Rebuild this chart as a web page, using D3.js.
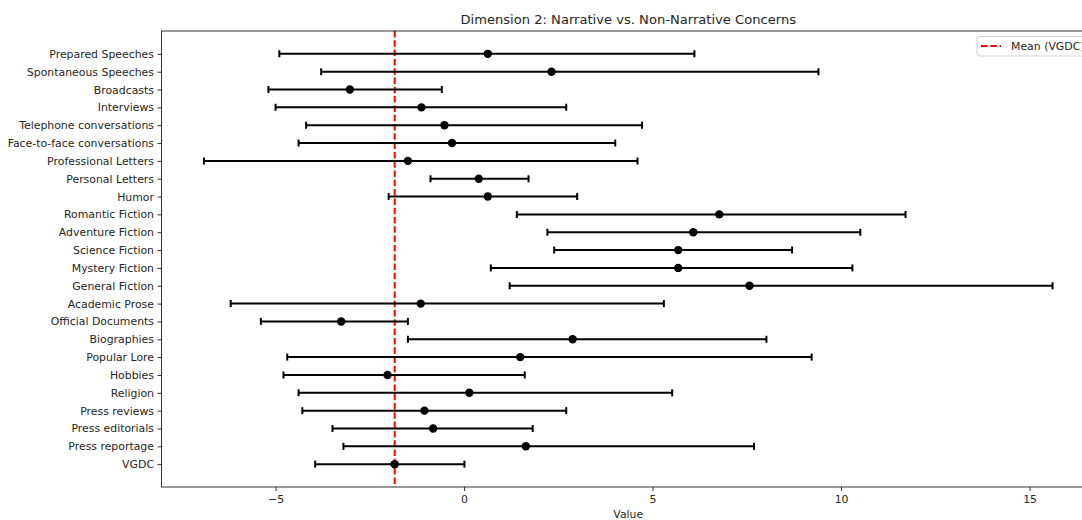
<!DOCTYPE html>
<html>
<head>
<meta charset="utf-8">
<script src="https://cdn.jsdelivr.net/npm/d3@7"></script>
<style>
  html, body { margin: 0; padding: 0; background: #fff; }
  svg { display: block; font-family: "DejaVu Sans", sans-serif; }
</style>
</head>
<body>
<svg id="chart" width="1082" height="520"></svg>
<script>
// ---- Data (top to bottom) ----
const categories = [
  "Prepared Speeches", "Spontaneous Speeches", "Broadcasts", "Interviews",
  "Telephone conversations", "Face-to-face conversations", "Professional Letters",
  "Personal Letters", "Humor", "Romantic Fiction", "Adventure Fiction",
  "Science Fiction", "Mystery Fiction", "General Fiction", "Academic Prose",
  "Official Documents", "Biographies", "Popular Lore", "Hobbies", "Religion",
  "Press reviews", "Press editorials", "Press reportage", "VGDC"
];
const means = [0.63, 2.32, -3.03, -1.13, -0.52, -0.32, -1.49, 0.39, 0.63, 6.77, 6.08,
  5.68, 5.68, 7.57, -1.15, -3.26, 2.88, 1.49, -2.03, 0.14, -1.05, -0.82, 1.64, -1.84];
const lows = [-4.90, -3.79, -5.19, -5.00, -4.19, -4.39, -6.90, -0.89, -2.00, 1.40, 2.21,
  2.39, 0.71, 1.21, -6.19, -5.39, -1.49, -4.69, -4.79, -4.39, -4.29, -3.49, -3.20, -3.95];
const highs = [6.11, 9.40, -0.59, 2.71, 4.72, 4.01, 4.60, 1.71, 3.00, 11.71, 10.51,
  8.70, 10.30, 15.61, 5.30, -1.49, 8.02, 9.22, 1.61, 5.52, 2.71, 1.82, 7.69, 0.01];
const vgdcMean = -1.84;
const xTicks = [-5, 0, 5, 10, 15];
const titleText = "Dimension 2: Narrative vs. Non-Narrative Concerns";
const xLabel = "Value";
const legendLabel = "Mean (VGDC)";

(function () {
// ---- Layout ----
const svg = d3.select("#chart");
const L = 161.5, R = 1095, T = 31, B = 487;
const xMin = d3.min(lows), xMax = d3.max(highs);
const pad = (xMax - xMin) * 0.05;
const x = d3.scaleLinear().domain([xMin - pad, xMax + pad]).range([L, R]);
const y = d3.scalePoint().domain(categories).range([T, B]).padding(1.28);

const textColor = "#262626";
const fs = 10.9;

// Title
svg.append("text").attr("x", (L + R) / 2).attr("y", 23.5)
  .attr("text-anchor", "middle").attr("font-size", 13.1).attr("fill", textColor)
  .text(titleText);

// Clip for plot
svg.append("defs").append("clipPath").attr("id", "clip")
  .append("rect").attr("x", L).attr("y", T).attr("width", R - L).attr("height", B - T);

const plot = svg.append("g").attr("clip-path", "url(#clip)");

// Mean line
plot.append("line")
  .attr("x1", x(vgdcMean)).attr("x2", x(vgdcMean))
  .attr("y1", T).attr("y2", B)
  .attr("stroke", "#ff0000").attr("stroke-width", 2).attr("stroke-dasharray", "6.5,2.8");

// Error bars
const rows = categories.map((c, i) => ({ c, m: means[i], lo: lows[i], hi: highs[i] }));
const g = plot.append("g");
g.selectAll("line.bar").data(rows).join("line").attr("class", "bar")
  .attr("x1", d => x(d.lo)).attr("x2", d => x(d.hi))
  .attr("y1", d => y(d.c)).attr("y2", d => y(d.c))
  .attr("stroke", "#000").attr("stroke-width", 2);
g.selectAll("line.capL").data(rows).join("line").attr("class", "capL")
  .attr("x1", d => x(d.lo)).attr("x2", d => x(d.lo))
  .attr("y1", d => y(d.c) - 3.5).attr("y2", d => y(d.c) + 3.5)
  .attr("stroke", "#000").attr("stroke-width", 2);
g.selectAll("line.capR").data(rows).join("line").attr("class", "capR")
  .attr("x1", d => x(d.hi)).attr("x2", d => x(d.hi))
  .attr("y1", d => y(d.c) - 3.5).attr("y2", d => y(d.c) + 3.5)
  .attr("stroke", "#000").attr("stroke-width", 2);
g.selectAll("circle").data(rows).join("circle")
  .attr("cx", d => x(d.m)).attr("cy", d => y(d.c)).attr("r", 4.2).attr("fill", "#000");

// Axes
const xAxis = svg.append("g").attr("transform", `translate(0,${B})`)
  .call(d3.axisBottom(x).tickValues(xTicks).tickSize(4).tickPadding(4)
    .tickFormat(d => d < 0 ? "\u2212" + Math.abs(d) : d));
const yAxis = svg.append("g").attr("transform", `translate(${L},0)`)
  .call(d3.axisLeft(y).tickSize(4).tickPadding(3.5));
[xAxis, yAxis].forEach(a => {
  a.select(".domain").remove();
  a.selectAll(".tick line").attr("stroke", "#333").attr("stroke-width", 1);
  a.selectAll(".tick text").attr("fill", textColor).attr("font-size", fs)
    .attr("font-family", "DejaVu Sans, sans-serif");
});

// Spines
svg.append("rect").attr("x", L).attr("y", T).attr("width", R - L).attr("height", B - T)
  .attr("fill", "none").attr("stroke", "#333").attr("stroke-width", 1);

// X label
svg.append("text").attr("x", (L + R) / 2).attr("y", 518)
  .attr("text-anchor", "middle").attr("font-size", fs).attr("fill", textColor).text(xLabel);

// Legend
const lg = svg.append("g").attr("transform", `translate(977,36.5)`);
lg.append("rect").attr("width", 111).attr("height", 19.5).attr("rx", 2.5)
  .attr("fill", "#fff").attr("fill-opacity", 0.8).attr("stroke", "#d0d0d0").attr("stroke-width", 1);
lg.append("line").attr("x1", 4).attr("x2", 24).attr("y1", 9.5).attr("y2", 9.5)
  .attr("stroke", "#ff0000").attr("stroke-width", 2).attr("stroke-dasharray", "6.5,2.8");
lg.append("text").attr("x", 34).attr("y", 13.5).attr("font-size", fs).attr("fill", textColor).text(legendLabel);
})();
</script>
</body>
</html>
